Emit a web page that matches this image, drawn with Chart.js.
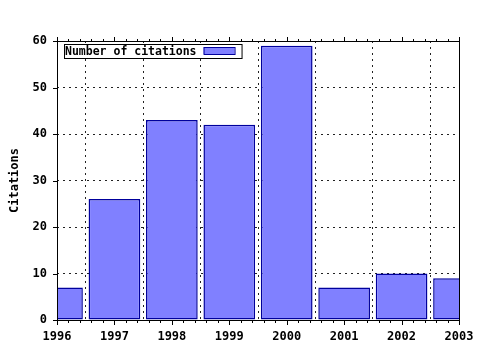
<!DOCTYPE html>
<html>
<head>
<meta charset="utf-8">
<script src="https://cdn.jsdelivr.net/npm/chart.js@4"></script>
<style>
  html, body { margin: 0; padding: 0; background: #fff; }
  #chart { display: block; }
</style>
</head>
<body>
<canvas id="chart" width="480" height="350"></canvas>
<script>
const years = [1996, 1997, 1998, 1999, 2000, 2001, 2002, 2003];
const citations = [7, 26, 43, 42, 59, 7, 10, 9];
const seriesLabel = 'Number of citations';
const yTitle = 'Citations';

const FONT = 'DejaVu Sans Mono';

// gnuplot-like frame, outward ticks (with minors on x, mirrored on top) and key box
const framePlugin = {
    id: 'frame',
    afterDatasetsDraw(chart) {
        const ctx = chart.ctx;
        const a = chart.chartArea;
        const xs = chart.scales.x;
        const ys = chart.scales.y;
        ctx.save();
        ctx.strokeStyle = '#000';
        ctx.lineWidth = 1;
        ctx.strokeRect(Math.round(a.left) + 0.5, Math.round(a.top) + 0.5,
            Math.round(a.right - a.left), Math.round(a.bottom - a.top));

        ctx.beginPath();
        for (let i = 0; i <= (xs.max - xs.min) * 5; i++) {
            const v = xs.min + i * 0.2;
            const px = Math.round(xs.getPixelForValue(v)) + 0.5;
            const len = i % 5 === 0 ? 4 : 2;
            ctx.moveTo(px, Math.round(a.bottom) + 1);
            ctx.lineTo(px, Math.round(a.bottom) + 1 + len);
            ctx.moveTo(px, Math.round(a.top));
            ctx.lineTo(px, Math.round(a.top) - len);
        }
        ys.ticks.forEach(t => {
            const py = Math.round(ys.getPixelForValue(t.value)) + 0.5;
            ctx.moveTo(Math.round(a.left), py);
            ctx.lineTo(Math.round(a.left) - 4, py);
        });
        ctx.stroke();

        // key
        const kx = 64, ky = 44;
        ctx.font = 'bold 11.5px ' + FONT;
        const tw = ctx.measureText(seriesLabel).width;
        const kw = tw + 46, kh = 14;
        ctx.fillStyle = '#fff';
        ctx.fillRect(kx, ky, kw, kh);
        ctx.strokeStyle = '#000';
        ctx.strokeRect(kx + 0.5, ky + 0.5, kw, kh);
        ctx.fillStyle = '#000';
        ctx.textBaseline = 'middle';
        ctx.fillText(seriesLabel, kx + 1, ky + kh / 2 + 1);
        const ds = chart.data.datasets[0];
        ctx.fillStyle = ds.backgroundColor;
        ctx.fillRect(kx + tw + 8, ky + 3, 31, 7);
        ctx.strokeStyle = ds.borderColor;
        ctx.strokeRect(kx + tw + 8.5, ky + 3.5, 31, 7);
        ctx.restore();
    }
};

const ctx = document.getElementById('chart').getContext('2d');
new Chart(ctx, {
    type: 'bar',
    data: {
        datasets: [{
            label: seriesLabel,
            data: years.map((y, i) => ({ x: y, y: citations[i] })),
            backgroundColor: '#8080ff',
            borderColor: '#00009c',
            borderWidth: 1.5,
            borderSkipped: false,
            inflateAmount: 0,
            categoryPercentage: 1.0,
            barPercentage: 0.9
        }]
    },
    options: {
        responsive: false,
        animation: false,
        layout: { padding: { top: 41, right: 21, left: 0, bottom: 0 } },
        plugins: {
            legend: { display: false },
            tooltip: { enabled: false }
        },
        scales: {
            x: {
                type: 'linear',
                min: 1996,
                max: 2003,
                offset: false,
                afterFit: s => { s.height = 30; s.paddingLeft = 0; s.paddingRight = 0; },
                ticks: {
                    stepSize: 1,
                    padding: 10,
                    color: '#000',
                    font: { family: FONT, size: 12, weight: 'bold' },
                    callback: v => String(v)
                },
                grid: {
                    drawTicks: false,
                    color: '#222'
                },
                border: { display: false, dash: [2, 4] }
            },
            y: {
                min: 0,
                max: 60,
                afterFit: s => { s.width = 57; s.paddingTop = 0; s.paddingBottom = 0; },
                ticks: {
                    stepSize: 10,
                    padding: 10,
                    color: '#000',
                    font: { family: FONT, size: 12, weight: 'bold' }
                },
                grid: {
                    drawTicks: false,
                    color: '#222'
                },
                border: { display: false, dash: [2, 4] },
                title: {
                    display: true,
                    text: yTitle,
                    color: '#000',
                    padding: { top: 8, bottom: 0 },
                    font: { family: FONT, size: 12, weight: 'bold' }
                }
            }
        }
    },
    plugins: [framePlugin]
});
</script>
</body>
</html>
